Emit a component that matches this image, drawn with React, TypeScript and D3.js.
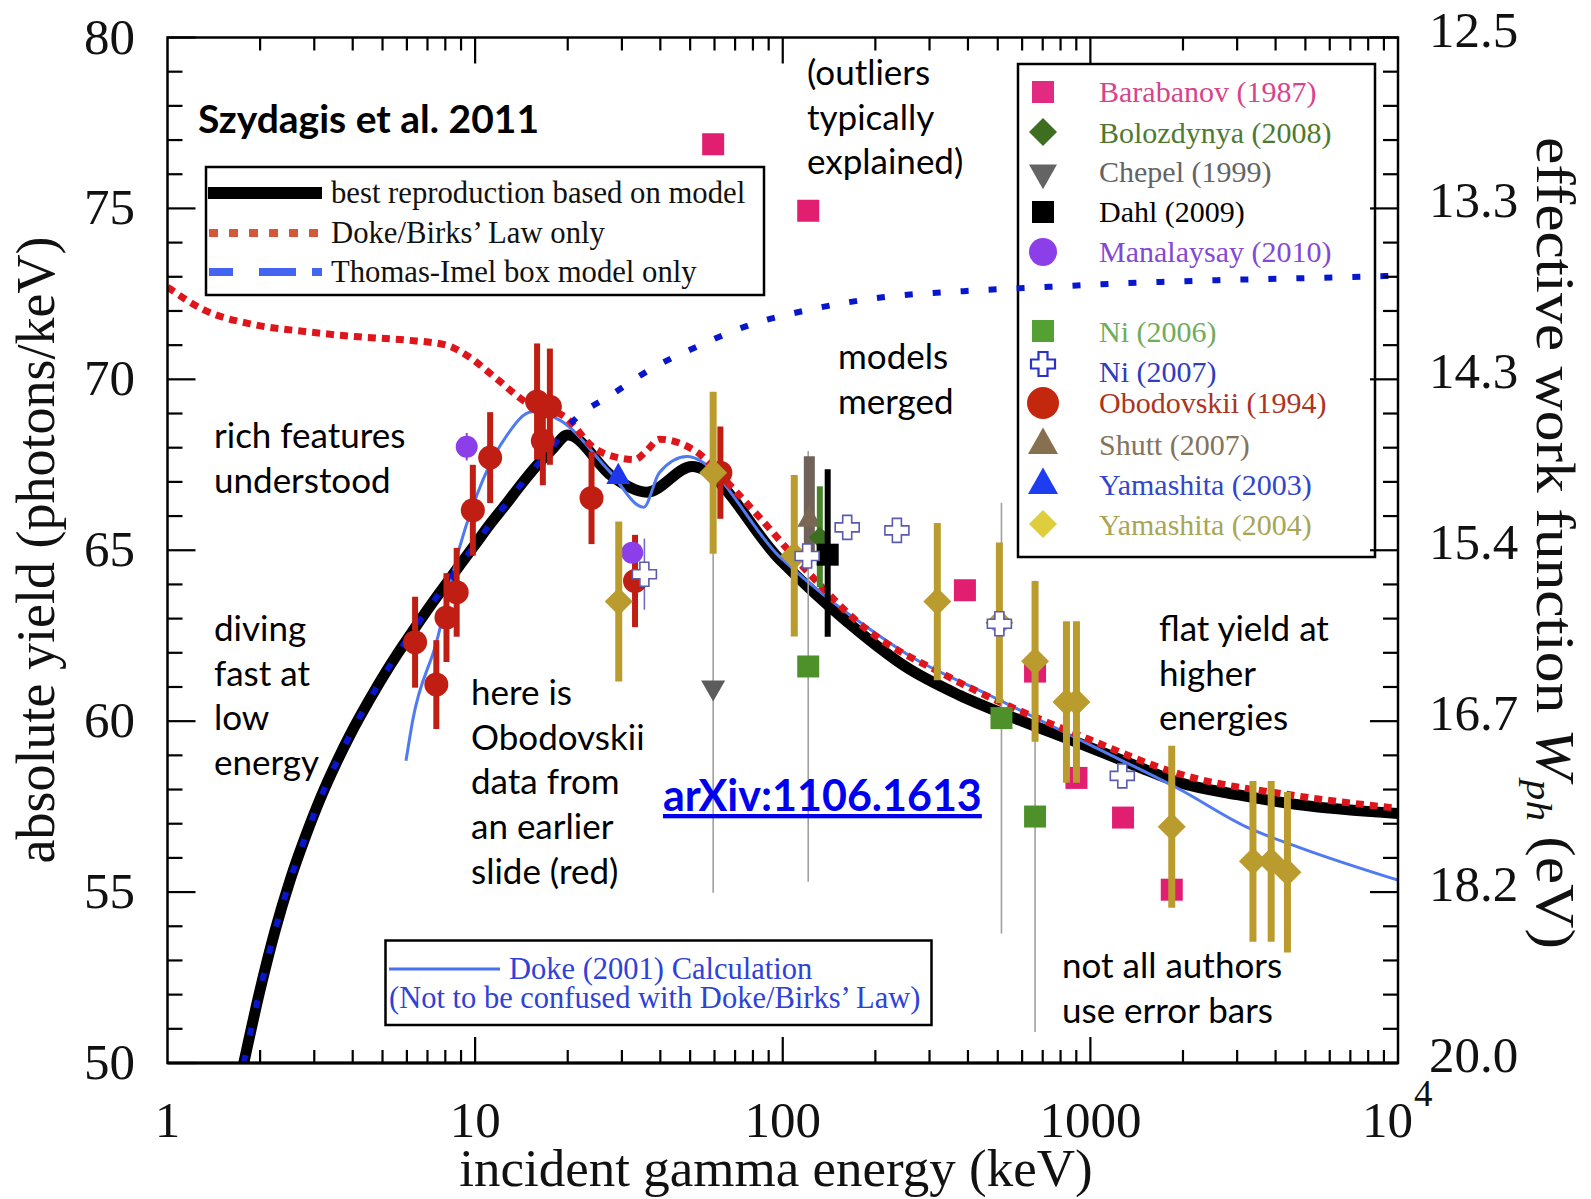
import React from "react";
import * as d3 from "d3";

// ---- axes ----
const energyDomain: [number, number] = [1, 10000];
const yieldDomain: [number, number] = [50, 80];
const energyLabels = ["1", "10", "100", "1000"];
const yieldTicks = [50, 55, 60, 65, 70, 75, 80];
const workFunctionLabels = ["20.0", "18.2", "16.7", "15.4", "14.3", "13.3", "12.5"];

// ---- model curves: [energy (keV), yield (photons/keV)] ----
const bestReproduction: [number, number][] = [
  [1.77, 50.0], [2.0, 52.14], [2.24, 53.89], [2.51, 55.38], [2.82, 56.67], [3.16, 57.8],
  [3.55, 58.81], [3.98, 59.71], [4.47, 60.53], [5.01, 61.29], [5.62, 62.0], [6.31, 62.67],
  [7.08, 63.32], [7.94, 63.94], [8.91, 64.56], [10.0, 65.17], [11.2, 65.77], [12.6, 66.35],
  [14.1, 66.92], [15.8, 67.46], [17.8, 67.95], [20.0, 68.37], [28.0, 67.15], [36.2, 66.7],
  [50.7, 67.45], [98, 64.72], [140, 63.4], [178, 62.6], [250, 61.6], [377, 60.75],
  [600, 60.0], [922, 59.35], [1400, 58.7], [1955, 58.2], [3000, 57.85], [4790, 57.55],
  [10000, 57.3],
];
const dokeBirks: [number, number][] = [
  [1.0, 72.7], [1.3, 72.05], [1.91, 71.6], [2.79, 71.4], [4.08, 71.25], [5.96, 71.15],
  [8.07, 71.0], [9.4, 70.7], [11.8, 70.0], [14.8, 69.3], [19.6, 68.9], [24.3, 68.0],
  [29.5, 67.7], [33, 67.65], [36, 67.9], [39.7, 68.25], [43.8, 68.2], [53.9, 67.8],
  [64.9, 67.06], [84.3, 65.95], [119.6, 64.4], [178, 62.85], [349, 61.28], [972, 59.5],
  [1955, 58.45], [4650, 57.82], [10000, 57.45],
];
const thomasImel: [number, number][] = [
  [1.77, 50.0], [2.0, 52.14], [2.24, 53.89], [2.51, 55.38], [2.82, 56.67], [3.16, 57.8],
  [3.55, 58.81], [3.98, 59.71], [4.47, 60.53], [5.01, 61.29], [5.62, 62.0], [6.31, 62.67],
  [7.08, 63.32], [7.94, 63.94], [8.91, 64.56], [10.0, 65.17], [11.2, 65.77], [12.6, 66.35],
  [14.1, 66.92], [15.8, 67.46], [17.8, 68.0], [19.5, 68.5], [21.7, 68.93], [27.2, 69.5],
  [36.8, 70.27], [53.9, 71.0], [78.7, 71.6], [124, 72.05], [211, 72.4], [388, 72.58],
  [711, 72.7], [1212, 72.8], [2590, 72.9], [5533, 72.97], [10000, 73.03],
];
const dokeCalculation: [number, number][] = [
  [5.96, 58.84], [6.27, 60.03], [7.48, 62.3], [8.91, 65.1], [10.6, 67.06], [12.7, 68.37],
  [15.3, 69.05], [18.9, 68.8], [27.4, 67.3], [35.3, 66.26], [39.7, 67.27], [48.8, 67.74],
  [98, 64.8], [140, 63.6], [178, 62.9], [260, 61.9], [472, 60.75], [1183, 58.98],
  [1955, 58.0], [3225, 56.9], [4790, 56.3], [9130, 55.46], [10000, 55.35],
];

// ---- measurements: [energy, yield, minus, plus] ----
const obodovskii: number[][] = [
  [6.38, 62.31, 1.33, 1.33], [7.48, 61.07, 1.3, 1.3], [8.07, 63.03, 1.3, 1.3],
  [8.71, 63.77, 1.3, 1.3], [9.83, 66.17, 1.33, 1.33], [11.19, 67.71, 1.33, 1.33],
  [16.6, 68.2, 1.3, 1.3], [15.9, 69.35, 1.7, 1.7], [17.5, 69.2, 1.7, 1.7],
  [23.9, 66.53, 1.35, 1.35], [33.1, 64.1, 1.35, 1.35], [62.7, 67.27, 1.35, 1.35],
];
const manalaysay: number[][] = [[9.39, 68.03, 0.4, 0.4], [32.4, 64.93, 0.3, 0.3]];
const yamashita2003: number[][] = [[29.2, 67.15]];
const yamashita2004: number[][] = [
  [29.3, 63.5, 2.34, 2.34], [59.4, 67.27, 2.37, 2.37], [109, 64.84, 2.36, 2.36],
  [318, 63.5, 2.3, 2.3], [506, 62.88, 2.35, 2.35], [661, 61.75, 2.35, 2.35],
  [836, 60.56, 2.36, 2.36], [901, 60.56, 2.36, 2.36], [1839, 56.91, 2.37, 2.37],
  [3377, 55.9, 2.35, 2.35], [3870, 55.9, 2.35, 2.35], [4371, 55.58, 2.35, 2.35],
];
const barabanov: number[][] = [
  [59.4, 76.88], [121, 74.93], [391, 63.83], [661, 61.45], [901, 58.34], [1277, 57.18], [1839, 55.07],
];
const ni2006: number[][] = [[121, 61.6, 6.3, 6.3], [514, 60.09, 6.3, 6.3], [661, 57.21, 6.3, 6.9]];
const ni2007: number[][] = [
  [35.5, 64.3, 1.04, 1.04], [120, 64.83, 0, 0], [162, 65.67, 0, 0], [235, 65.58, 0, 0],
  [506, 62.85, 0, 0], [1270, 58.4, 0, 0],
];
const chepel: number[][] = [[59.4, 60.98, 6.0, 6.38]];
const shutt: number[][] = [[122, 65.9, 0.95, 1.85]];
const bolozdynya: number[][] = [[132, 65.37, 1.45, 1.5]];
const dahl: number[][] = [[140, 64.87, 2.4, 2.5]];

// ---- data-set key ----
const legendNames = [
  "Barabanov (1987)", "Bolozdynya (2008)", "Chepel (1999)", "Dahl (2009)", "Manalaysay (2010)",
  "Ni (2006)", "Ni (2007)", "Obodovskii (1994)", "Shutt (2007)", "Yamashita (2003)", "Yamashita (2004)",
];
const legendTextColors = [
  "rgb(214,68,140)", "rgb(78,122,48)", "rgb(100,100,100)", "#000", "rgb(132,72,212)",
  "rgb(112,172,92)", "rgb(48,60,190)", "rgb(172,52,32)", "rgb(132,116,92)", "rgb(50,70,205)",
  "rgb(168,166,84)",
];
const legendShapes = ["square", "diamond", "triDown", "square", "circle", "square", "cross", "bigCircle", "triUp", "triUp", "diamond"];
const legendFills = [
  "rgb(226,42,128)", "rgb(62,110,32)", "rgb(100,100,100)", "#000", "rgb(140,62,232)",
  "rgb(84,160,50)", "#fff", "rgb(195,40,15)", "rgb(135,112,80)", "rgb(30,60,240)", "rgb(222,205,60)",
];

const SERIF = "'Liberation Serif', 'Times New Roman', serif";
const SANS = "Lato, 'Open Sans', sans-serif";

const OBO = "rgb(192,30,18)";
const YAM4 = "rgb(186,156,46)";
const BARA = "rgb(226,30,112)";
const NI6 = "rgb(78,145,42)";

function square(cx: number, cy: number, s: number) {
  return `M${cx - s / 2},${cy - s / 2}h${s}v${s}h${-s}Z`;
}
function diamond(cx: number, cy: number, h: number) {
  return `M${cx},${cy - h}L${cx + h},${cy}L${cx},${cy + h}L${cx - h},${cy}Z`;
}
function triUp(cx: number, cy: number, s: number) {
  return `M${cx},${cy - s * 0.58}L${cx + s / 2},${cy + s * 0.3}L${cx - s / 2},${cy + s * 0.3}Z`;
}
function triDown(cx: number, cy: number, s: number) {
  return `M${cx},${cy + s * 0.58}L${cx + s / 2},${cy - s * 0.3}L${cx - s / 2},${cy - s * 0.3}Z`;
}
function cross(cx: number, cy: number, h: number, a: number) {
  return `M${cx - a},${cy - h}H${cx + a}V${cy - a}H${cx + h}V${cy + a}H${cx + a}V${cy + h}H${cx - a}V${cy + a}H${cx - h}V${cy - a}H${cx - a}Z`;
}

function legendMarker(shape: string, cx: number, cy: number, fill: string) {
  switch (shape) {
    case "square": return <path d={square(cx, cy, 22)} fill={fill} />;
    case "diamond": return <path d={diamond(cx, cy, 14)} fill={fill} />;
    case "triDown": return <path d={triDown(cx, cy + 2, 28)} fill={fill} />;
    case "triUp": return <path d={triUp(cx, cy + 2, 30)} fill={fill} />;
    case "circle": return <circle cx={cx} cy={cy} r={14} fill={fill} />;
    case "bigCircle": return <circle cx={cx} cy={cy} r={16} fill={fill} />;
    case "cross": return <path d={cross(cx, cy, 12, 4.5)} fill="#fff" stroke="rgb(40,50,200)" strokeWidth={2.2} />;
    default: return null;
  }
}

export default function App() {
  const L = 167.5, R = 1398, T = 37.5, B = 1063;
  const x = d3.scaleLog().domain(energyDomain).range([L, R]);
  const y = d3.scaleLinear().domain(yieldDomain).range([B, T]);
  const line = d3
    .line<[number, number]>()
    .x((d) => x(d[0]))
    .y((d) => y(d[1]))
    .curve(d3.curveMonotoneX);

  const minorEnergies = d3.range(0, 4).flatMap((p) => d3.range(2, 10).map((m) => m * 10 ** p));
  const majorEnergies = [10, 100, 1000];
  const yieldMinor = d3.range(51, 80).filter((v) => v % 5 !== 0);

  const bar = (d: number[], color: string, w: number, key: string) => (
    <line key={key} x1={x(d[0])} x2={x(d[0])} y1={y(d[1] - d[2])} y2={y(d[1] + d[3])} stroke={color} strokeWidth={w} />
  );

  const legendRowY = [92, 132, 171, 212, 252, 331, 364, 403, 443, 483, 524];
  const legendTextY = [102, 143, 182, 222, 262, 342, 382, 413, 455, 495, 535];

  return (
    <svg width={1591} height={1199} style={{ position: "absolute", left: 0, top: 0, background: "#fff" }}>
      <defs>
        <clipPath id="plotArea">
          <rect x={L} y={T} width={R - L} height={B - T} />
        </clipPath>
      </defs>
      <rect x={0} y={0} width={1591} height={1199} fill="#fff" />

      {/* data-set key (unfilled so the model curve shows through) */}
      <rect x={1018} y={64} width={357} height={493} fill="none" stroke="#000" strokeWidth={2.5} />
      {legendNames.map((name, i) => (
        <g key={name}>
          {legendMarker(legendShapes[i], 1043, legendRowY[i], legendFills[i])}
          <text x={1099} y={legendTextY[i]} fontFamily={SERIF} fontSize={30} fill={legendTextColors[i]}>
            {name}
          </text>
        </g>
      ))}

      {/* model curves */}
      <g clipPath="url(#plotArea)" fill="none">
        <path d={line(bestReproduction) || ""} stroke="#000" strokeWidth={11} strokeLinejoin="round" />
        <path d={line(dokeCalculation) || ""} stroke="rgb(80,122,240)" strokeWidth={3} />
        <path d={line(dokeBirks) || ""} stroke="rgb(222,22,28)" strokeWidth={7} strokeDasharray="8 6" />
        <path d={line(thomasImel) || ""} stroke="rgb(8,22,205)" strokeWidth={6} strokeDasharray="8 20" />
      </g>

      {/* measurements */}
      <g clipPath="url(#plotArea)">
        {chepel.map((d, i) => bar(d, "rgb(160,160,160)", 1.6, "cb" + i))}
        {ni2006.map((d, i) => bar(d, "rgb(160,160,160)", 1.6, "nb" + i))}
        {ni2007.filter((d) => d[2] > 0).map((d, i) => bar(d, "rgb(110,110,200)", 1.6, "n7b" + i))}
        {manalaysay.map((d, i) => bar(d, "rgb(140,62,232)", 2, "mb" + i))}
        {obodovskii.map((d, i) => bar(d, OBO, 6, "ob" + i))}
        {obodovskii.map((d, i) => (
          <circle key={"oc" + i} cx={x(d[0])} cy={y(d[1])} r={12} fill={OBO} />
        ))}
        {manalaysay.map((d, i) => (
          <circle key={"mc" + i} cx={x(d[0])} cy={y(d[1])} r={11} fill="rgb(140,62,232)" />
        ))}
        {yamashita2003.map((d, i) => (
          <path key={"y3" + i} d={triUp(x(d[0]), y(d[1]), 24)} fill="rgb(30,55,235)" />
        ))}
        {barabanov.map((d, i) => (
          <path key={"ba" + i} d={square(x(d[0]), y(d[1]), 22)} fill={BARA} />
        ))}
        {yamashita2004.map((d, i) => bar(d, YAM4, 7, "yb" + i))}
        {yamashita2004.map((d, i) => (
          <path key={"yd" + i} d={diamond(x(d[0]), y(d[1]), 14)} fill={YAM4} />
        ))}
        {ni2006.map((d, i) => (
          <path key={"n6" + i} d={square(x(d[0]), y(d[1]), 22)} fill={NI6} />
        ))}
        {chepel.map((d, i) => (
          <path key={"ch" + i} d={triDown(x(d[0]), y(d[1]), 24)} fill="rgb(92,92,92)" />
        ))}
        {shutt.map((d, i) => bar(d, "rgb(112,98,88)", 11, "sb" + i))}
        {shutt.map((d, i) => (
          <path key={"sh" + i} d={triUp(x(d[0]), y(d[1]), 24)} fill="rgb(122,104,84)" />
        ))}
        {bolozdynya.map((d, i) => bar(d, "rgb(72,132,42)", 6, "bb" + i))}
        {bolozdynya.map((d, i) => (
          <path key={"bo" + i} d={diamond(x(d[0]), y(d[1]), 11)} fill="rgb(60,110,34)" />
        ))}
        {dahl.map((d, i) => bar(d, "#000", 6, "db" + i))}
        {dahl.map((d, i) => (
          <path key={"da" + i} d={square(x(d[0]), y(d[1]), 22)} fill="#000" />
        ))}
        {ni2007.map((d, i) => (
          <path key={"n7" + i} d={cross(x(d[0]), y(d[1]), 12, 4.5)} fill="#fff" stroke="rgb(90,90,175)" strokeWidth={1.6} />
        ))}
      </g>

      {/* model key */}
      <rect x={206} y={167} width={558} height={128} fill="#fff" stroke="#000" strokeWidth={2.5} />
      <line x1={208} x2={322} y1={193} y2={193} stroke="#000" strokeWidth={12} />
      <line x1={209} x2={320} y1={233} y2={233} stroke="rgb(214,86,60)" strokeWidth={8} strokeDasharray="9 11" />
      <line x1={209} x2={322} y1={272} y2={272} stroke="rgb(66,100,240)" strokeWidth={8} strokeDasharray="24 26 37 16 10" />
      <g fontFamily={SERIF} fontSize={30.7} fill="#111">
        <text x={331} y={203}>best reproduction based on model</text>
        <text x={331} y={243}>Doke/Birks’ Law only</text>
        <text x={331} y={282}>Thomas-Imel box model only</text>
      </g>

      {/* Doke calculation key */}
      <rect x={385.5} y={940.5} width={546} height={84.5} fill="#fff" stroke="#000" strokeWidth={2.5} />
      <line x1={389} x2={500} y1={969} y2={969} stroke="rgb(72,112,240)" strokeWidth={3} />
      <g fontFamily={SERIF} fontSize={30.5} fill="rgb(46,66,215)">
        <text x={509} y={979}>Doke (2001) Calculation</text>
        <text x={389} y={1008}>(Not to be confused with Doke/Birks’ Law)</text>
      </g>

      {/* frame and ticks */}
      <g stroke="#000" strokeWidth={2.2}>
        {minorEnergies.map((e) => (
          <g key={"xm" + e}>
            <line x1={x(e)} x2={x(e)} y1={B} y2={B - 13} />
            <line x1={x(e)} x2={x(e)} y1={T} y2={T + 13} />
          </g>
        ))}
        {majorEnergies.map((e) => (
          <g key={"xM" + e}>
            <line x1={x(e)} x2={x(e)} y1={B} y2={B - 26} />
            <line x1={x(e)} x2={x(e)} y1={T} y2={T + 26} />
          </g>
        ))}
        {yieldMinor.map((v) => (
          <g key={"ym" + v}>
            <line x1={L} x2={L + 15} y1={y(v)} y2={y(v)} />
            <line x1={R} x2={R - 15} y1={y(v)} y2={y(v)} />
          </g>
        ))}
        {yieldTicks.map((v) => (
          <g key={"yM" + v}>
            <line x1={L} x2={L + 28} y1={y(v)} y2={y(v)} />
            <line x1={R} x2={R - 28} y1={y(v)} y2={y(v)} />
          </g>
        ))}
      </g>
      <rect x={L} y={T} width={R - L} height={B - T} fill="none" stroke="#000" strokeWidth={2.5} />
      <line x1={L} x2={R} y1={B} y2={B} stroke="#000" strokeWidth={3.2} />

      {/* tick labels */}
      <g fontFamily={SERIF} fontSize={51} fill="#111">
        {yieldTicks.map((v) => (
          <text key={"yl" + v} x={135} y={y(v) + 16} textAnchor="end">{String(v)}</text>
        ))}
        {yieldTicks.map((v, i) => (
          <text key={"wl" + v} x={1429} y={y(v) + 9}>{workFunctionLabels[i]}</text>
        ))}
        {energyLabels.map((s, i) => (
          <text key={"xl" + s} x={x(10 ** i)} y={1137} textAnchor="middle">{s}</text>
        ))}
        <text x={x(10000) + 15} y={1137} textAnchor="end">10</text>
        <text x={x(10000) + 16} y={1106} fontSize={37}>4</text>
      </g>

      {/* axis titles */}
      <text x={776} y={1186} textAnchor="middle" fontFamily={SERIF} fontSize={53} fill="#111">
        incident gamma energy (keV)
      </text>
      <text transform="translate(54,550) rotate(-90)" textAnchor="middle" fontFamily={SERIF} fontSize={54} fill="#111">
        absolute yield (photons/keV)
      </text>
      <text transform="translate(1537,543) rotate(90)" textAnchor="middle" fontFamily={SERIF} fontSize={54} fill="#111" textLength={812} lengthAdjust="spacingAndGlyphs">
        effective work function <tspan fontStyle="italic">W</tspan>
        <tspan fontStyle="italic" fontSize={36} dy={10}>ph</tspan>
        <tspan dy={-10}> (eV)</tspan>
      </text>

      {/* annotations */}
      <text x={198} y={133} fontFamily={SANS} fontWeight={700} fontSize={39} fill="#000">Szydagis et al. 2011</text>
      <g fontFamily={SANS} fontSize={35} fill="#000">
        <text x={807} y={85}>(outliers</text>
        <text x={807} y={130}>typically</text>
        <text x={807} y={174}>explained)</text>
        <text x={838} y={369}>models</text>
        <text x={838} y={414}>merged</text>
        <text x={214} y={448}>rich features</text>
        <text x={214} y={493}>understood</text>
        <text x={214} y={641}>diving</text>
        <text x={214} y={686}>fast at</text>
        <text x={214} y={730}>low</text>
        <text x={214} y={775}>energy</text>
        <text x={471} y={705}>here is</text>
        <text x={471} y={750}>Obodovskii</text>
        <text x={471} y={794}>data from</text>
        <text x={471} y={839}>an earlier</text>
        <text x={471} y={884}>slide (red)</text>
        <text x={1159} y={641}>flat yield at</text>
        <text x={1159} y={686}>higher</text>
        <text x={1159} y={730}>energies</text>
        <text x={1062} y={978}>not all authors</text>
        <text x={1062} y={1023}>use error bars</text>
      </g>
      <text x={663} y={811} fontFamily={SANS} fontWeight={700} fontSize={43} fill="rgb(0,0,238)" textDecoration="underline">
        arXiv:1106.1613
      </text>
    </svg>
  );
}
